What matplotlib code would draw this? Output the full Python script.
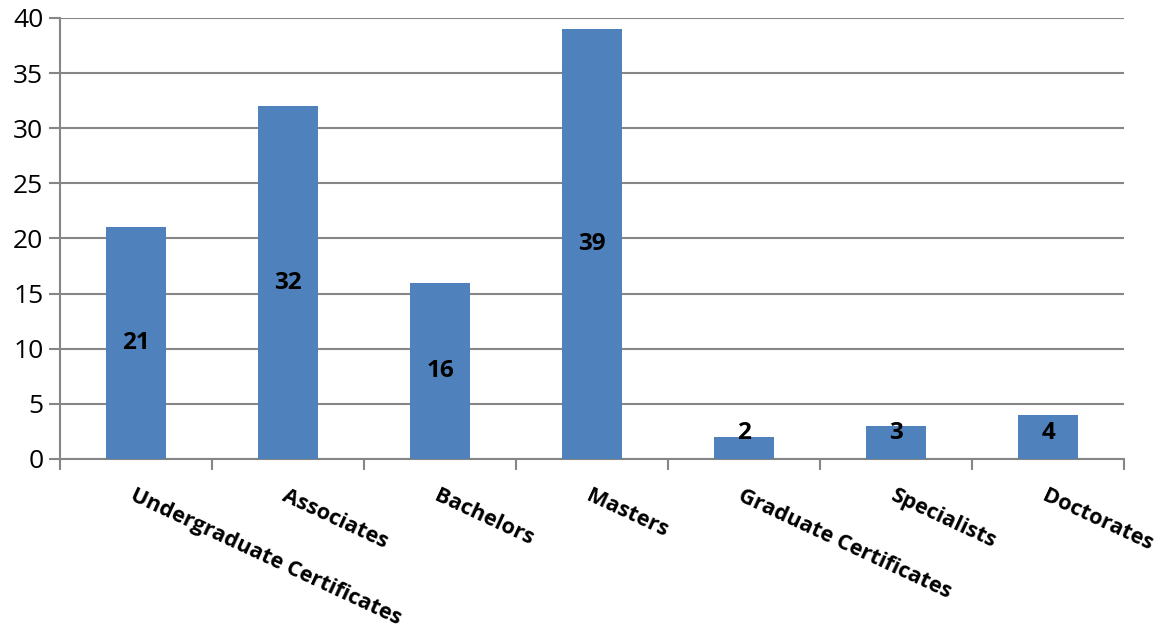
import matplotlib
matplotlib.use("Agg")
import matplotlib.pyplot as plt
import numpy as np

# Degree counts by award level
categories = ['Undergraduate Certificates', 'Associates', 'Bachelors', 'Masters',
              'Graduate Certificates', 'Specialists', 'Doctorates']
counts = [21, 32, 16, 39, 2, 3, 4]
yticks = [0, 5, 10, 15, 20, 25, 30, 35, 40]

plt.rcParams['font.family'] = ['Open Sans', 'DejaVu Sans']

bar_color = '#4F81BD'
grid_color = '#868686'

fig = plt.figure(figsize=(11.66, 6.33), dpi=100)
ax = fig.add_axes([0.0515, 0.2749, 0.9125, 0.6967])

x = np.arange(len(categories))
ax.bar(x, counts, width=0.4, color=bar_color, zorder=3)

# value labels centred inside the bars (Excel keeps short bars' labels off the axis)
for xi, v in zip(x, counts):
    ax.text(xi, max(v / 2, 2.4), str(v), ha='center', va='center', fontsize=17.5,
            fontweight='bold', color='black', zorder=4)

ax.set_xlim(-0.5, len(categories) - 0.5)
ax.set_ylim(0, 40)
ax.set_yticks(yticks)
ax.tick_params(axis='y', labelsize=19, length=8, width=1.5, color=grid_color, pad=4)

# category boundaries get the tick marks, labels are placed by hand
ax.set_xticks(np.arange(len(categories) + 1) - 0.5)
ax.set_xticklabels([])
ax.tick_params(axis='x', length=8, width=1.5, color=grid_color)
for xi, name in zip(x, categories):
    ax.text(xi, -2.4, name, rotation=-25, rotation_mode='anchor', ha='left', va='top',
            fontsize=15.7, fontweight='bold')

ax.yaxis.grid(True, color=grid_color, linewidth=1.5, zorder=0)
for side in ['top', 'right']:
    ax.spines[side].set_visible(False)
for side in ['left', 'bottom']:
    ax.spines[side].set_color(grid_color)
    ax.spines[side].set_linewidth(1.5)

fig.savefig('out.png', dpi=100)
